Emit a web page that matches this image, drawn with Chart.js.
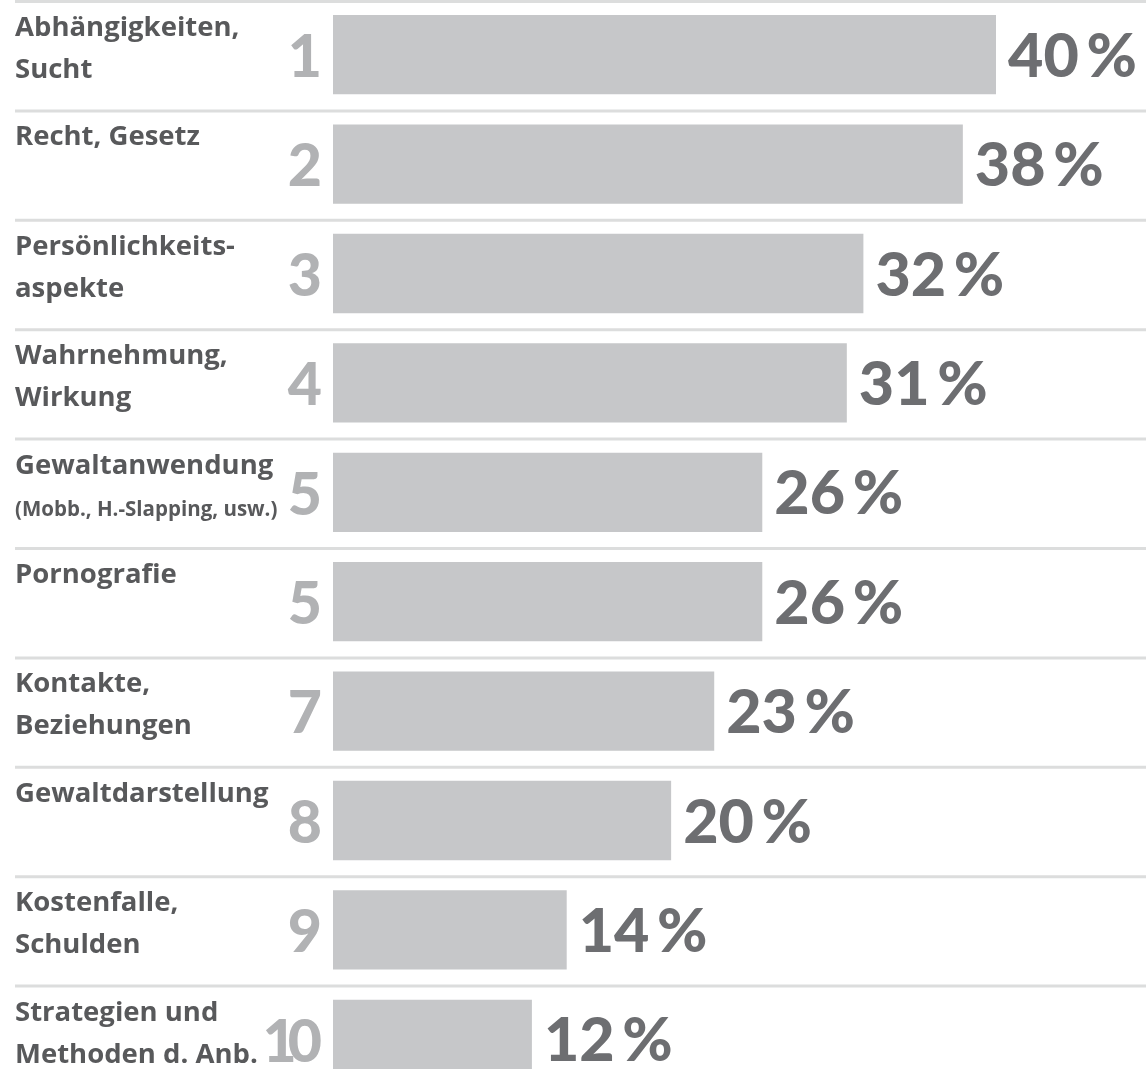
<!DOCTYPE html>
<html>
<head>
<meta charset="utf-8">
<script src="https://cdn.jsdelivr.net/npm/chart.js@4"></script>
<style>
  html, body { margin: 0; padding: 0; background: #fff; overflow: hidden; }
  #wrap { width: 1146px; height: 1094px; }
</style>
</head>
<body>
<div id="wrap"><canvas id="canvas" width="1146" height="1094"></canvas></div>
<script>
// topics (one or two lines each), rank and share in percent
var topics = [
  ['Abhängigkeiten,', 'Sucht'],
  ['Recht, Gesetz'],
  ['Persönlichkeits-', 'aspekte'],
  ['Wahrnehmung,', 'Wirkung'],
  ['Gewaltanwendung', '(Mobb., H.-Slapping, usw.)'],
  ['Pornografie'],
  ['Kontakte,', 'Beziehungen'],
  ['Gewaltdarstellung'],
  ['Kostenfalle,', 'Schulden'],
  ['Strategien und', 'Methoden d. Anb.']
];
var ranks = ['1', '2', '3', '4', '5', '5', '7', '8', '9', '10'];
var shares = [40, 38, 32, 31, 25.9, 25.9, 23, 20.4, 14.1, 12];
var shareLabels = ['40 %', '38 %', '32 %', '31 %', '26 %', '26 %', '23 %', '20 %', '14 %', '12 %'];

var LABEL_FONT = "'Open Sans', 'DejaVu Sans', sans-serif";
var NUM_FONT = "Lato, 'Open Sans', sans-serif";

var rowDecor = {
  id: 'rowDecor',
  beforeDatasetsDraw: function(chart) {
    var ctx = chart.ctx;
    var y = chart.scales.y;
    var n = topics.length;
    var pitch = (y.bottom - y.top) / n;
    ctx.save();
    ctx.strokeStyle = '#dcdddd';
    ctx.lineWidth = 3;
    for (var i = 0; i < n; i++) {
      var ly = y.top + i * pitch + 1.5;
      ctx.beginPath();
      ctx.moveTo(15, ly);
      ctx.lineTo(chart.width, ly);
      ctx.stroke();
    }
    ctx.restore();
  },
  afterDatasetsDraw: function(chart) {
    var ctx = chart.ctx;
    var x = chart.scales.x;
    var y = chart.scales.y;
    var n = topics.length;
    var pitch = (y.bottom - y.top) / n;
    ctx.save();
    ctx.textBaseline = 'alphabetic';
    for (var i = 0; i < n; i++) {
      var top = y.top + i * pitch;
      var mid = y.getPixelForValue(i);

      // topic text on the left
      ctx.fillStyle = '#58595b';
      ctx.textAlign = 'left';
      ctx.letterSpacing = '0px';
      ctx.font = 'bold 27.5px ' + LABEL_FONT;
      ctx.fillText(topics[i][0], 15, top + 36);
      if (topics[i][1]) {
        // the note in brackets is set smaller
        ctx.font = (topics[i][1].charAt(0) === '(' ? 'bold 20.5px ' : 'bold 27.5px ') + LABEL_FONT;
        ctx.fillText(topics[i][1], 15, top + 78);
      }

      // rank number, set tight (negative spacing also trails the last digit)
      ctx.fillStyle = '#b1b2b4';
      ctx.textAlign = 'right';
      ctx.letterSpacing = '-9px';
      ctx.font = '900 59px ' + NUM_FONT;
      ctx.fillText(ranks[i], 313, top + 77);

      // percent after the bar
      ctx.fillStyle = '#6d6e71';
      ctx.textAlign = 'left';
      ctx.letterSpacing = '0px';
      ctx.font = '900 61px ' + NUM_FONT;
      ctx.fillText(shareLabels[i].replace(' ', '\u2009'), x.getPixelForValue(shares[i]) + 12, mid + 22);
    }
    ctx.restore();
  }
};

new Chart(document.getElementById('canvas'), {
  type: 'bar',
  data: {
    labels: ranks,
    datasets: [{
      data: shares,
      backgroundColor: '#c6c7c9',
      borderWidth: 0,
      categoryPercentage: 1,
      barPercentage: 0.725
    }]
  },
  options: {
    indexAxis: 'y',
    responsive: false,
    animation: false,
    layout: { padding: { left: 333, right: 0, top: 0, bottom: 0 } },
    plugins: {
      legend: { display: false },
      tooltip: { enabled: false }
    },
    scales: {
      x: { display: false, min: 0, max: 49.05 },
      y: { display: false }
    }
  },
  plugins: [rowDecor]
});
</script>
</body>
</html>
